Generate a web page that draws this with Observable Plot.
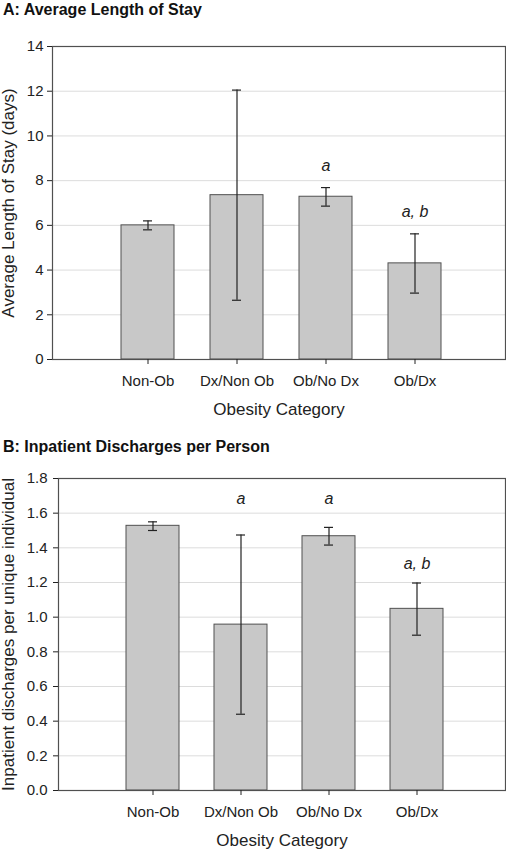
<!DOCTYPE html>
<html><head><meta charset="utf-8">
<script src="https://cdn.jsdelivr.net/npm/d3@7"></script>
<script src="https://cdn.jsdelivr.net/npm/@observablehq/plot@0.6"></script>
<style>
body{margin:0;background:#fff;font-family:"Liberation Sans",Arial,sans-serif;}
#wrap{position:relative;width:506px;height:850px;overflow:hidden;}
.title{position:absolute;left:3px;font-weight:bold;font-size:16px;line-height:1;color:#111;z-index:2;white-space:nowrap;}
.panel{position:absolute;left:0;z-index:1;}
</style></head><body>
<div id="wrap">
<div class="panel" id="pa" style="top:0"></div>
<div class="panel" id="pb" style="top:420px"></div>
<div class="title" style="top:2px">A: Average Length of Stay</div>
<div class="title" style="top:439px">B: Inpatient Discharges per Person</div>
</div>
<script>
const categories = ["Non-Ob", "Dx/Non Ob", "Ob/No Dx", "Ob/Dx"];
const xAxisLabel = "Obesity Category";

// Panel A: average length of stay (days)
const losMean = [6.0, 7.35, 7.28, 4.3];
const losLow  = [5.8, 2.65, 6.86, 2.97];
const losHigh = [6.2, 12.05, 7.69, 5.62];
const losTicks = [0, 2, 4, 6, 8, 10, 12, 14];
const losAnnCats = ["Ob/No Dx", "Ob/Dx"];
const losAnnText = ["a", "a, b"];
const losAnnY = [8.68, 6.62];

// Panel B: inpatient discharges per person
const disMean = [1.527, 0.957, 1.467, 1.048];
const disLow  = [1.50, 0.44, 1.416, 0.896];
const disHigh = [1.55, 1.474, 1.518, 1.197];
const disTicks = [0, 0.2, 0.4, 0.6, 0.8, 1.0, 1.2, 1.4, 1.6, 1.8];
const disAnnCats = ["Dx/Non Ob", "Ob/No Dx", "Ob/Dx"];
const disAnnText = ["a", "a", "a, b"];
const disAnnY = [1.681, 1.681, 1.307];

function panel(o) {
  const data = categories.map((c, i) => ({cat: c, val: o.mean[i], lo: o.low[i], hi: o.high[i]}));
  const ann = o.annCats.map((c, i) => ({cat: c, y: o.annY[i], t: o.annText[i]}));
  const ymax = o.ticks[o.ticks.length - 1];
  return Plot.plot({
    width: 506,
    height: o.height,
    marginTop: o.marginTop,
    marginBottom: o.marginBottom,
    marginLeft: o.marginLeft,
    marginRight: 1,
    style: {fontFamily: "'Liberation Sans', Arial, sans-serif", fontSize: "15px", background: "transparent", color: "#222", overflow: "visible"},
    x: {type: "band", domain: categories, paddingInner: 0.4, paddingOuter: 0.72, align: 0.52},
    y: {domain: [0, ymax]},
    marks: [
      Plot.ruleY(o.ticks.filter(t => t > 0 && t < ymax), {stroke: "#dcdcdc", strokeWidth: 1}),
      Plot.barY(data, {x: "cat", y: "val", fill: "#c8c8c8", stroke: "#505050", strokeWidth: 1}),
      Plot.ruleX(data, {x: "cat", y1: "lo", y2: "hi", stroke: "#222", strokeWidth: 1.2}),
      Plot.tickY(data, {x: "cat", y: "lo", insetLeft: 22, insetRight: 22, stroke: "#222", strokeWidth: 1.2}),
      Plot.tickY(data, {x: "cat", y: "hi", insetLeft: 22, insetRight: 22, stroke: "#222", strokeWidth: 1.2}),
      Plot.text(ann, {x: "cat", y: "y", text: "t", fontStyle: "italic", fontSize: 16, fill: "#222", lineAnchor: "middle"}),
      Plot.frame({stroke: "#505050", strokeWidth: 1.2}),
      Plot.axisY({ticks: o.ticks, tickFormat: o.fmt, tickSize: 5, tickPadding: o.tickPad, fontSize: 15, label: null}),
      Plot.axisX({tickSize: 5, tickPadding: 11, fontSize: 15, label: null}),
      Plot.text([o.yLabel], {frameAnchor: "left", rotate: -90, lineAnchor: "top", textAnchor: "middle",
        dx: 1 - o.marginLeft, fontSize: 17, fill: "#222"}),
      Plot.text([xAxisLabel], {frameAnchor: "bottom", lineAnchor: "middle", textAnchor: "middle",
        dy: 50.5, fontSize: 17, fill: "#222"})
    ]
  });
}

document.getElementById("pa").append(panel({
  mean: losMean, low: losLow, high: losHigh, ticks: losTicks, fmt: d3.format("d"),
  annCats: losAnnCats, annText: losAnnText, annY: losAnnY,
  yLabel: "Average Length of Stay (days)",
  height: 420, marginTop: 46, marginBottom: 61, marginLeft: 52, tickPad: 4
}));

document.getElementById("pb").append(panel({
  mean: disMean, low: disLow, high: disHigh, ticks: disTicks, fmt: d3.format(".1f"),
  annCats: disAnnCats, annText: disAnnText, annY: disAnnY,
  yLabel: "Inpatient discharges per unique individual",
  height: 430, marginTop: 58, marginBottom: 60, marginLeft: 58, tickPad: 6
}));
</script>
</body></html>
